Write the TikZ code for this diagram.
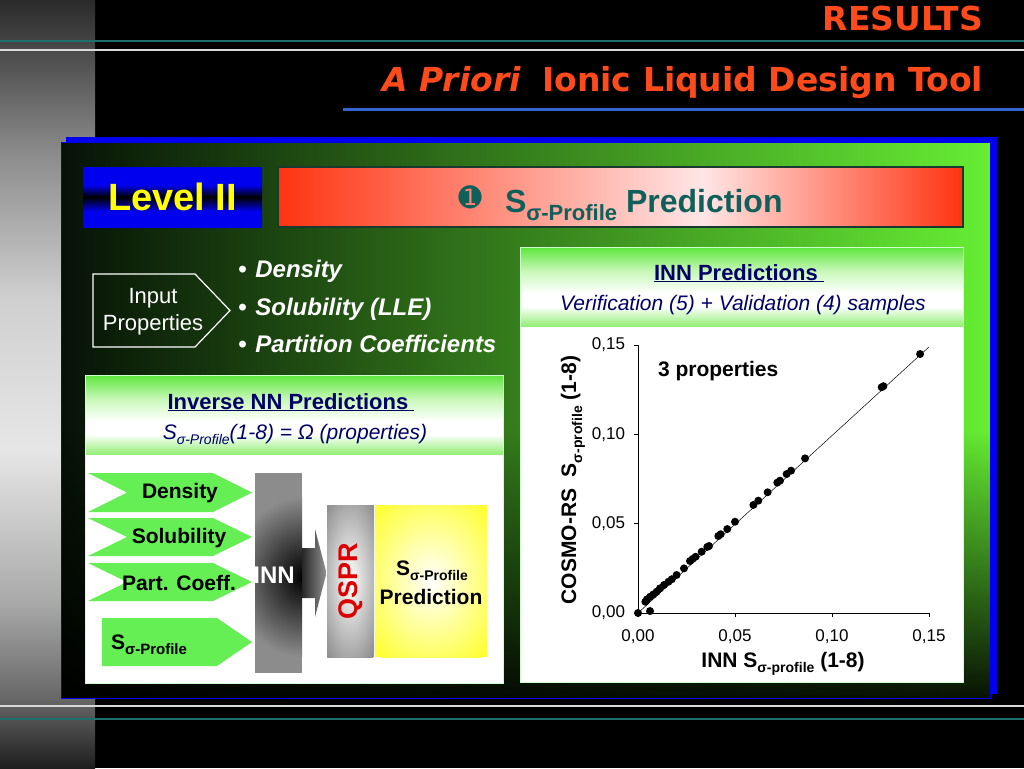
\documentclass[tikz,border=0pt]{standalone}
\usepackage{fontspec}
\setmainfont{Liberation Sans}
\newfontfamily\titlefont{DejaVu Sans}
\newfontfamily\dingfont{DejaVu Sans}
\usetikzlibrary{fadings}

\definecolor{titleorange}{HTML}{FF4A1C}
\definecolor{tealline}{HTML}{1E6E6E}
\definecolor{titleblue}{HTML}{3366CC}
\definecolor{brightgreen}{HTML}{66EE33}
\definecolor{darkgreen}{HTML}{061206}
\definecolor{chevgreen}{HTML}{66EE55}
\definecolor{navytext}{HTML}{000066}
\definecolor{bannerteal}{HTML}{0F5F5A}
\definecolor{bannerred}{HTML}{FF3311}
\definecolor{bannerpink}{HTML}{FFE6E6}
\definecolor{bannerborder}{HTML}{1A3A30}
\definecolor{qsprred}{HTML}{DD0000}
\definecolor{hdrgreen}{HTML}{5EE63C}
\definecolor{hdrlight}{HTML}{C8F8B8}
\definecolor{hdrbottom}{HTML}{8EEE70}
\definecolor{levelblue}{HTML}{0000EE}
\definecolor{levelyellow}{HTML}{FFFF00}
\definecolor{innGray}{HTML}{8C8C8C}
\definecolor{yellowblock}{HTML}{FFFF33}
\definecolor{stA}{HTML}{1E1E1E}
\definecolor{stB}{HTML}{666666}
\definecolor{stC}{HTML}{AAAAAA}
\definecolor{stD}{HTML}{E6E6E6}
\definecolor{stE}{HTML}{D0D0D0}
\definecolor{stF}{HTML}{8A8A8A}
\definecolor{stG}{HTML}{2A2A2A}

\pgfdeclareverticalshading{stripshade}{100bp}{color(0bp)=(stA); color(25bp)=(stA); color(29.4bp)=(stB); color(35.9bp)=(stC); color(45.7bp)=(stD); color(55.5bp)=(stE); color(65.2bp)=(stF); color(75bp)=(stG); color(100bp)=(stG)}
\pgfdeclareverticalshading{levelshade}{100bp}{color(0bp)=(levelblue); color(25bp)=(levelblue); color(38bp)=(levelblue); color(50bp)=(black); color(60bp)=(levelblue); color(75bp)=(levelblue); color(100bp)=(levelblue)}
\pgfdeclareverticalshading{hdrshade}{100bp}{color(0bp)=(hdrbottom); color(25bp)=(hdrbottom); color(38bp)=(white); color(46bp)=(white); color(60bp)=(hdrlight); color(75bp)=(hdrgreen); color(100bp)=(hdrgreen)}
\pgfdeclarehorizontalshading{bannershade}{100bp}{color(0bp)=(bannerred); color(25bp)=(bannerred); color(56bp)=(bannerpink); color(75bp)=(bannerred); color(100bp)=(bannerred)}
\tikzfading[name=fadebottom, top color=transparent!100, bottom color=transparent!0]

\newcommand{\sigsub}[2]{\raisebox{-0.28em}{\fontsize{#1}{#1}\selectfont #2}}

\begin{document}
\begin{tikzpicture}[x=1pt,y=-1pt,
  every node/.style={inner sep=0pt, outer sep=0pt},
  titletxt/.style={text=titleorange, font={\titlefont\bfseries\fontsize{33pt}{38pt}\selectfont}},
  leveltxt/.style={text=levelyellow, font={\bfseries\fontsize{38pt}{42pt}\selectfont}},
  bannertxt/.style={text=bannerteal, font={\bfseries\fontsize{32pt}{36pt}\selectfont}},
  inputtxt/.style={text=white, align=center, font={\fontsize{22pt}{27pt}\selectfont}},
  bullettxt/.style={text=white, anchor=base west, font={\bfseries\itshape\fontsize{24pt}{28pt}\selectfont}},
  hdrtitle/.style={text=navytext, anchor=base, font={\bfseries\fontsize{22pt}{26pt}\selectfont}},
  hdrsub/.style={text=navytext, anchor=base, font={\itshape\fontsize{21pt}{25pt}\selectfont}},
  chevtxt/.style={text=black, font={\bfseries\fontsize{21pt}{25pt}\selectfont}},
  chevron/.style={fill=chevgreen},
  ticklbl/.style={text=black, font={\fontsize{17pt}{20pt}\selectfont}},
  axislbl/.style={text=black, font={\bfseries\fontsize{21pt}{25pt}\selectfont}},
  dot/.style={fill=black}
]
\useasboundingbox (0,0) rectangle (1024,768);
\fill[black] (0,0) rectangle (1024,768);
\shade[shading=stripshade] (0,0) rectangle (95,768);

% rules
\draw[tealline, line width=2pt] (0,41) -- (1024,41);
\draw[white!85!black, line width=2pt] (0,50) -- (1024,50);
\draw[white!85!black, line width=2pt] (0,706) -- (1024,706);
\draw[tealline, line width=2pt] (0,719) -- (1024,719);
\draw[titleblue, line width=3pt] (343,109) -- (1024,109);

% titles
\node[titletxt, anchor=base east] (results) at (983,31) {RESULTS};
\node[titletxt, anchor=base east] (title) at (983,91) {{\itshape A Priori}\hspace{10pt} Ionic Liquid Design Tool};

% main panel
\fill[levelblue] (66,137) rectangle (997,694);
\shade[left color=darkgreen, right color=brightgreen] (61,142) rectangle (990,698);
\fill[black, opacity=0.92, path fading=fadebottom] (61,430) rectangle (990,698);
\draw[levelblue, line width=1pt] (61,142) rectangle (990,698);

% Level II
\shade[shading=levelshade] (83,167) rectangle (262,227);
\node[leveltxt] (level) at (172.5,197) {Level II};

% banner
\shadedraw[shading=bannershade, draw=bannerborder, line width=1.2pt] (278,167) rectangle (963,227);
\node[text=bannerteal, font={\dingfont\fontsize{28pt}{32pt}\selectfont}] (one) at (470,197) {➊};
\node[bannertxt, anchor=base west] (sprof) at (505,212) {S\sigsub{22pt}{σ-Profile} Prediction};

% input properties
\draw[white, line width=1.2pt] (93,274) -- (195,274) -- (230,310.5) -- (195,347) -- (93,347) -- cycle;
\node[inputtxt] (input) at (153,312) {Input\\Properties};
\node[bullettxt] (b1) at (238,277) {•\hspace{9pt}Density};
\node[bullettxt] (b2) at (238,315) {•\hspace{9pt}Solubility (LLE)};
\node[bullettxt] (b3) at (238,352) {•\hspace{9pt}Partition Coefficients};

% left panel: inverse NN
\shade[shading=hdrshade] (85,375) rectangle (503,455);
\fill[white] (85,455) rectangle (503,683);
\draw[white!80!green, line width=0.8pt] (85,375) rectangle (503,683);
\node[hdrtitle] (invt) at (291,409) {\underline{Inverse NN Predictions\ }};
\node[hdrsub] (invs) at (295,439) {S\sigsub{14pt}{σ-Profile}(1-8) = Ω (properties)};

% chevrons
\fill[chevron] (88,473) -- (213,473) -- (252,492.5) -- (213,512) -- (88,512) -- (127,492.5) -- cycle;
\fill[chevron] (88,518) -- (213,518) -- (252,537) -- (213,556) -- (88,556) -- (127,537) -- cycle;
\fill[chevron] (88,563) -- (213,563) -- (252,582) -- (213,601) -- (88,601) -- (127,582) -- cycle;
\fill[chevron] (102,618) -- (217,618) -- (252,642) -- (217,666) -- (102,666) -- cycle;
\node[chevtxt] (cd) at (180,493) {Density};
\node[chevtxt] (cs) at (179,538) {Solubility};
\node[chevtxt] (cp) at (179,583) {Part. Coeff.};
\node[chevtxt, anchor=base west] (csp) at (111,649) {S\sigsub{15pt}{σ-Profile}};

% INN block
\begin{scope}
\clip (255,473) rectangle (302,673);
\fill[innGray] (255,473) rectangle (302,673);
\shade[inner color=black, outer color=innGray] (303,577) ellipse [x radius=72pt, y radius=80pt];
\end{scope}
\node[text=white, font={\bfseries\fontsize{24pt}{28pt}\selectfont}] (inn) at (274,575) {INN};

% arrow INN -> QSPR
\shade[left color=black!85, right color=black!42] (302,548) -- (315,548) -- (315,529) -- (326.5,573) -- (315,617) -- (315,598) -- (302,598) -- cycle;

% QSPR block
\begin{scope}
\clip (327,505) rectangle (374,657);
\fill[innGray] (327,505) rectangle (374,657);
\shade[inner color=white, outer color=innGray] (350,580) ellipse [x radius=36pt, y radius=100pt];
\end{scope}
\node[rotate=90, text=qsprred, font={\bfseries\fontsize{27pt}{30pt}\selectfont}] (qspr) at (351,581) {QSPR};

% yellow block
\begin{scope}
\clip (375,505) rectangle (487,657);
\fill[yellowblock] (375,505) rectangle (487,657);
\shade[inner color=white, outer color=yellowblock] (431,581) ellipse [x radius=78pt, y radius=100pt];
\end{scope}
\node[chevtxt, anchor=base] (ypred1) at (432,575) {S\sigsub{14pt}{σ-Profile}};
\node[chevtxt, anchor=base] (ypred2) at (431,604) {Prediction};

% right panel: INN predictions
\shade[shading=hdrshade] (520,247) rectangle (963,327);
\fill[white] (520,327) rectangle (963,682);
\draw[white!80!green, line width=0.8pt] (520,247) rectangle (963,682);
\node[hdrtitle] (innt) at (739,280) {\underline{INN Predictions\ }};
\node[hdrsub] (inns) at (743,310) {Verification (5) + Validation (4) samples};

% plot
\begin{scope}[shift={(638,613)}, x=1940pt, y=1786pt]
  \coordinate (o) at (0,0);
  \draw[black, line width=0.6pt] (0,0.15) -- (0,0) -- (0.15,0);
  \foreach \v/\l in {0/{0,00},0.05/{0,05},0.1/{0,10},0.15/{0,15}} {
    \draw[black, line width=0.6pt] (0,\v) -- ++(-4pt,0);
    \draw[black, line width=0.6pt] (\v,0) -- ++(0,-4pt);
    \node[ticklbl, anchor=east] at ([xshift=-13pt]0,\v) {\l};
    \node[ticklbl] at ([yshift=-24pt]\v,0) {\l};
  }
  \draw[black, line width=0.5pt] (0,0) -- (0.15,0.149);
  \foreach \a/\b in {0/0, 0.0038/0.0063, 0.0046/0.0076, 0.0062/0.0091, 0.0062/0.0011, 0.0079/0.0104, 0.0096/0.0119, 0.0113/0.0138, 0.0134/0.0157, 0.0157/0.0175, 0.0174/0.0189, 0.0199/0.0213, 0.0237/0.0250, 0.0268/0.0291, 0.0282/0.0303, 0.0297/0.0315, 0.0328/0.0343, 0.0357/0.0370, 0.0366/0.0375, 0.0414/0.0431, 0.0426/0.0441, 0.0460/0.0470, 0.0500/0.0511, 0.0595/0.0605, 0.0620/0.0629, 0.0668/0.0676, 0.0718/0.0730, 0.0732/0.0741, 0.0766/0.0778, 0.0789/0.0797, 0.0861/0.0866, 0.1256/0.1264, 0.1265/0.1270, 0.1454/0.1450} {
    \fill[dot] (\a,\b) circle (4pt);
  }
\end{scope}
\node[text=black, anchor=base west, font={\bfseries\fontsize{21pt}{25pt}\selectfont}] (three) at (658,376) {3 properties};
\node[axislbl, rotate=90] (ylab) at (573,480) {COSMO-RS\ \ S\sigsub{14pt}{σ-profile} (1-8)};
\node[axislbl, anchor=base] (xlab) at (783,667) {INN S\sigsub{14pt}{σ-profile} (1-8)};
\end{tikzpicture}
\end{document}
